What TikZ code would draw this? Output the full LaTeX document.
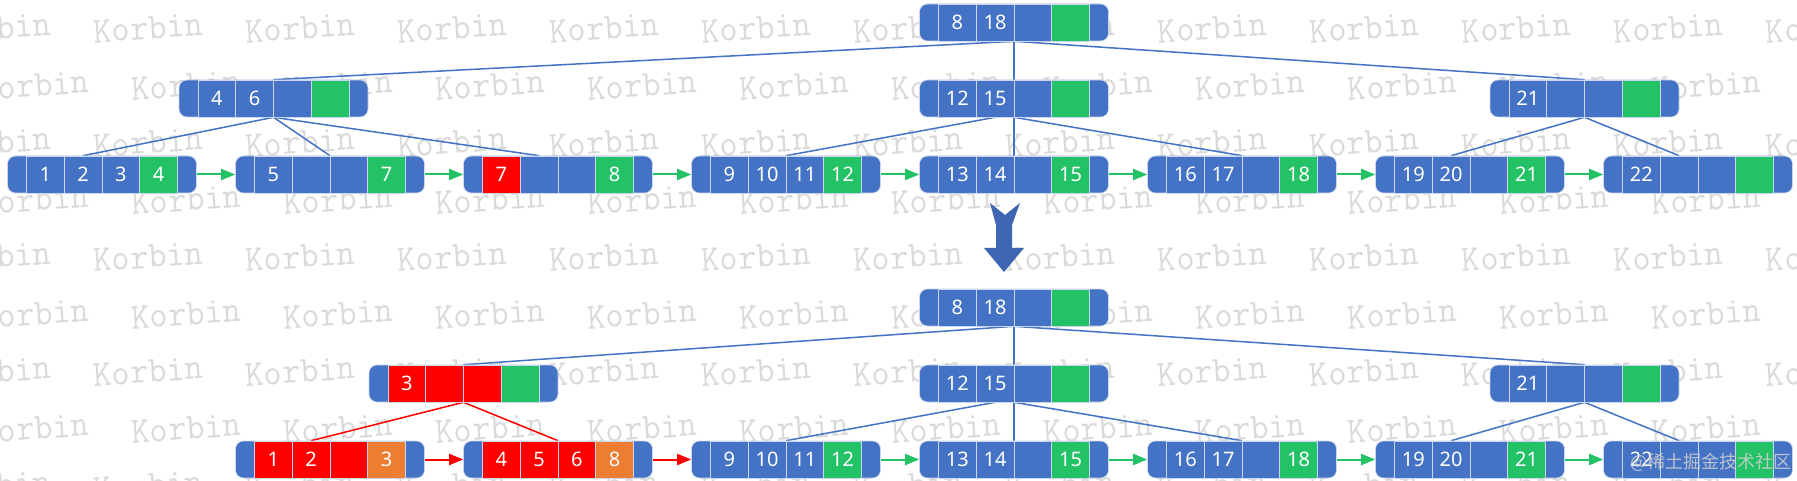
\documentclass[tikz,border=0pt]{standalone}
\usepackage{fontspec}
\usetikzlibrary{arrows.meta}
\newfontfamily\numfont{Noto Sans}
\newfontfamily\cjkfont{Noto Sans CJK SC}
\definecolor{bblue}{HTML}{4472C4}
\definecolor{bgreen}{HTML}{24C266}
\definecolor{bred}{HTML}{FF0000}
\definecolor{borange}{HTML}{ED7D31}
\definecolor{bline}{HTML}{C9D6EE}
\definecolor{arrowblue}{HTML}{3F66B2}
\definecolor{wmgray}{HTML}{DADADA}
\pgfdeclarelayer{bg}
\pgfsetlayers{bg,main}
\tikzset{
  nodebox/.style={rectangle, rounded corners=8pt, minimum width=189pt, minimum height=37pt,
    inner sep=0pt, fill=bblue, draw=bline, line width=0.6pt},
  cellbox/.style={rectangle, minimum width=37.75pt, minimum height=37pt, inner sep=0pt,
    draw=bline, line width=0.6pt, text=white, font=\numfont\fontsize{20}{24}\selectfont},
  tree/.style={draw=bblue, line width=1.5pt},
  redtree/.style={draw=bred, line width=1.5pt},
  nextg/.style={draw=bgreen, line width=2pt, -{Triangle[length=14pt,width=11pt]}},
  nextr/.style={draw=bred, line width=2pt, -{Triangle[length=14pt,width=11pt]}},
  wm/.style={text=wmgray, font=\ttfamily\fontsize{37}{40}\selectfont, xscale=0.95, rotate=4,
    anchor=west, inner sep=0pt},
}
\newcommand{\BTnode}[4]{%
  \node[nodebox] (#1) at ({#2+94.5},{#3+18.5}) {};
  \foreach \cellcol/\celltxt [count=\ci] in {#4} {
    \node[cellbox, fill=\cellcol] (#1-\ci) at ({#2+19+37.75*(\ci-0.5)},{#3+18.5}) {\celltxt};
  }%
}
\begin{document}
\begin{tikzpicture}[x=1pt,y=-1pt]
\useasboundingbox (0,0) rectangle (1797,481);

% watermark
\begin{pgfonlayer}{bg}
\fill[white] (0,0) rectangle (1797,481);
\foreach \r in {0,...,8} {
  \pgfmathsetmacro{\wy}{32+57.2*\r}
  \pgfmathsetmacro{\wx}{mod(\r,2)==0 ? 94 : 132}
  \foreach \k in {-1,...,11} {
    \node[wm] (wm-\r-\k) at ({\wx+152*\k},{\wy}) {Korbin};
  }
}
\end{pgfonlayer}

% ---------- top tree ----------
\BTnode{root}{919.5}{4}{bblue/8, bblue/18, bblue/{}, bgreen/{}}
\BTnode{nA}{179}{80}{bblue/4, bblue/6, bblue/{}, bgreen/{}}
\BTnode{nB}{919.5}{80}{bblue/12, bblue/15, bblue/{}, bgreen/{}}
\BTnode{nC}{1490}{80}{bblue/21, bblue/{}, bblue/{}, bgreen/{}}
\BTnode{l1}{7.5}{156}{bblue/1, bblue/2, bblue/3, bgreen/4}
\BTnode{l2}{235.5}{156}{bblue/5, bblue/{}, bblue/{}, bgreen/7}
\BTnode{l3}{463.5}{156}{bred/7, bblue/{}, bblue/{}, bgreen/8}
\BTnode{l4}{691.5}{156}{bblue/9, bblue/10, bblue/11, bgreen/12}
\BTnode{l5}{919.5}{156}{bblue/13, bblue/14, bblue/{}, bgreen/15}
\BTnode{l6}{1147.5}{156}{bblue/16, bblue/17, bblue/{}, bgreen/18}
\BTnode{l7}{1375.5}{156}{bblue/19, bblue/20, bblue/{}, bgreen/21}
\BTnode{l8}{1603.5}{156}{bblue/22, bblue/{}, bblue/{}, bgreen/{}}

% ---------- bottom tree ----------
\BTnode{Broot}{919.5}{289}{bblue/8, bblue/18, bblue/{}, bgreen/{}}
\BTnode{BnA}{369}{365}{bred/3, bred/{}, bred/{}, bgreen/{}}
\BTnode{BnB}{919.5}{365}{bblue/12, bblue/15, bblue/{}, bgreen/{}}
\BTnode{BnC}{1490}{365}{bblue/21, bblue/{}, bblue/{}, bgreen/{}}
\BTnode{b2}{235.5}{441}{bred/1, bred/2, bred/{}, borange/3}
\BTnode{b3}{463.5}{441}{bred/4, bred/5, bred/6, borange/8}
\BTnode{b4}{691.5}{441}{bblue/9, bblue/10, bblue/11, bgreen/12}
\BTnode{b5}{919.5}{441}{bblue/13, bblue/14, bblue/{}, bgreen/15}
\BTnode{b6}{1147.5}{441}{bblue/16, bblue/17, bblue/{}, bgreen/18}
\BTnode{b7}{1375.5}{441}{bblue/19, bblue/20, bblue/{}, bgreen/21}
\BTnode{b8}{1603.5}{441}{bblue/22, bblue/{}, bblue/{}, bgreen/{}}

% ---------- connectors ----------
\begin{pgfonlayer}{bg}
\draw[tree] (root.south) -- (nA.north);
\draw[tree] (root.south) -- (nB.north);
\draw[tree] (root.south) -- (nC.north);
\draw[tree] (nA.south) -- (l1-2.north);
\draw[tree] (nA.south) -- (l2.north);
\draw[tree] (nA.south) -- (l3-2.north);
\draw[tree] (nB-2.south) -- (l4.north);
\draw[tree] (nB.south) -- (l5.north);
\draw[tree] (nB.south) -- (l6.north);
\draw[tree] (nC.south) -- (l7-2.north);
\draw[tree] (nC.south) -- (l8-2.north);

\draw[tree] (Broot.south) -- (BnA.north);
\draw[tree] (Broot.south) -- (BnB.north);
\draw[tree] (Broot.south) -- (BnC.north);
\draw[redtree] (BnA.south) -- (b2-2.north);
\draw[redtree] (BnA.south) -- (b3.north);
\draw[tree] (BnB-2.south) -- (b4.north);
\draw[tree] (BnB.south) -- (b5.north);
\draw[tree] (BnB.south) -- (b6.north);
\draw[tree] (BnC.south) -- (b7-2.north);
\draw[tree] (BnC.south) -- (b8-2.north);
\end{pgfonlayer}

\draw[nextg] (l1.east) -- (l2.west);
\draw[nextg] (l2.east) -- (l3.west);
\draw[nextg] (l3.east) -- (l4.west);
\draw[nextg] (l4.east) -- (l5.west);
\draw[nextg] (l5.east) -- (l6.west);
\draw[nextg] (l6.east) -- (l7.west);
\draw[nextg] (l7.east) -- (l8.west);

\draw[nextr] (b2.east) -- (b3.west);
\draw[nextr] (b3.east) -- (b4.west);
\draw[nextg] (b4.east) -- (b5.west);
\draw[nextg] (b5.east) -- (b6.west);
\draw[nextg] (b6.east) -- (b7.west);
\draw[nextg] (b7.east) -- (b8.west);

% big down arrow
\fill[arrowblue] (990,203) -- (1005,215) -- (1020,203) -- (1012,225) -- (1012,248)
  -- (1024,248) -- (1004,272) -- (984,248) -- (996,248) -- (996,225) -- cycle;

% site watermark
\node[text=white!82!black, opacity=0.85, font=\cjkfont\fontsize{18}{20}\selectfont,
  anchor=west, inner sep=0pt] (jj) at (1630,462) {@稀土掘金技术社区};
\end{tikzpicture}
\end{document}
